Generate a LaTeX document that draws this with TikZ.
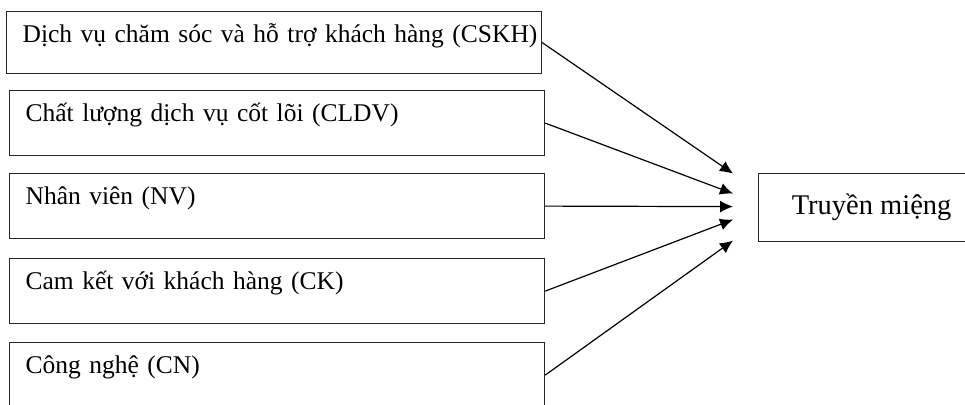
\documentclass[tikz,border=0pt]{standalone}
\usepackage{fontspec}
\setmainfont{Liberation Serif}
\usetikzlibrary{arrows.meta,calc,positioning}

\begin{document}
\begin{tikzpicture}[x=1pt,y=-1pt,
  factor/.style={draw=black!85,line width=1.2pt,anchor=north west,inner sep=0pt,
    text width=535pt,align=left,text height=31pt,text depth=34pt,
    font=\fontsize{25.5}{30}\selectfont,execute at begin node={\hspace*{16pt}}},
  effect/.style={-{Latex[length=13pt,width=12pt]},line width=1.2pt,black}]
\useasboundingbox (0,0) rectangle (965,404);
% factor boxes
\node[factor,text depth=31pt] (CSKH) at (6,11) {Dịch vụ chăm sóc và hỗ trợ khách hàng (CSKH)};
\node[factor] (CLDV) at (9,90) {Chất lượng dịch vụ cốt lõi (CLDV)};
\node[factor] (NV) at (9,173) {Nhân viên (NV)};
\node[factor] (CK) at (9,258) {Cam kết với khách hàng (CK)};
\node[factor] (CN) at (9,342) {Công nghệ (CN)};
% outcome
\node[draw=black!85,line width=1.2pt,anchor=north west,inner sep=0pt,minimum width=226pt,
  minimum height=68pt,font=\fontsize{28.5}{33}\selectfont] (WOM) at (758,173) {Truyền miệng};
\coordinate (t1) at ($(WOM.west)+(-25,-34)$);
\coordinate (t2) at ($(WOM.west)+(-25,-14)$);
\coordinate (t3) at ($(WOM.west)+(-25,-1)$);
\coordinate (t4) at ($(WOM.west)+(-25,12)$);
\coordinate (t5) at ($(WOM.west)+(-25,33)$);
\draw[effect] (CSKH.east) -- (t1);
\draw[effect] (CLDV.east) -- (t2);
\draw[effect] (NV.east) -- (t3);
\draw[effect] (CK.east) -- (t4);
\draw[effect] (CN.east) -- (t5);
\end{tikzpicture}
\end{document}
